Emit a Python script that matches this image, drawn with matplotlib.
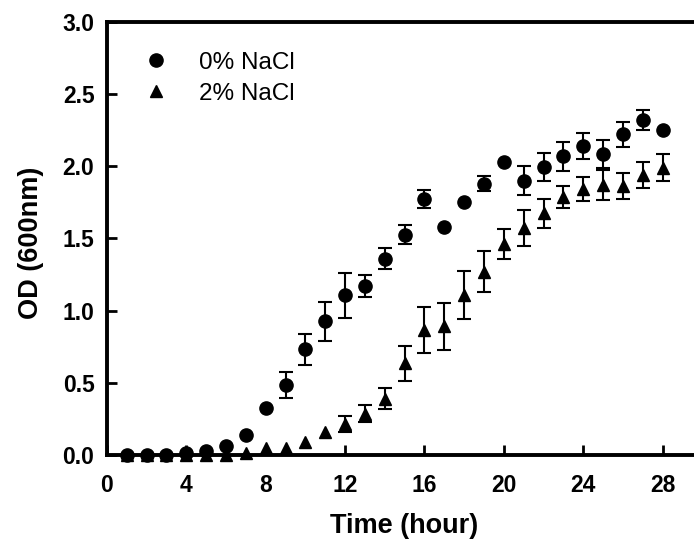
import numpy as np
import matplotlib
matplotlib.use("Agg")
import matplotlib.pyplot as plt
from matplotlib.lines import Line2D

plt.rcParams["font.family"] = ["Liberation Sans", "DejaVu Sans"]

# growth curve readings, OD600 per hour
hours = list(range(1, 29))
od_0 = [0.00, 0.00, 0.00, 0.01, 0.03, 0.06, 0.135, 0.325, 0.485, 0.73,
        0.925, 1.105, 1.17, 1.36, 1.525, 1.77, 1.58, 1.755, 1.88, 2.03,
        1.90, 1.995, 2.07, 2.14, 2.085, 2.22, 2.32, 2.25]
err_0 = [0, 0, 0, 0, 0, 0, 0, 0, 0.092, 0.11,
         0.137, 0.158, 0.078, 0.07, 0.065, 0.062, 0, 0, 0.05, 0,
         0.10, 0.10, 0.10, 0.09, 0.10, 0.087, 0.07, 0]
od_2 = [0.00, 0.00, 0.00, 0.00, 0.00, 0.00, 0.01, 0.05, 0.05, 0.09,
        0.155, 0.215, 0.285, 0.39, 0.635, 0.866, 0.89, 1.11, 1.27, 1.46,
        1.57, 1.675, 1.785, 1.84, 1.87, 1.865, 1.94, 1.99]
err_2 = [0, 0, 0, 0, 0, 0, 0, 0, 0, 0,
         0, 0.055, 0.06, 0.075, 0.12, 0.16, 0.165, 0.167, 0.14, 0.106,
         0.124, 0.10, 0.075, 0.083, 0.107, 0.089, 0.089, 0.095]
labels = ["0% NaCl", "2% NaCl"]

fig = plt.figure(figsize=(6.94, 5.48), dpi=100)
ax = fig.add_axes([0.154, 0.170, 0.858, 0.790])

x = np.array(hours)
for od, err, mk in [(od_0, err_0, "o"), (od_2, err_2, "^")]:
    od = np.array(od)
    err = np.array(err)
    has = err > 0
    ax.errorbar(x[has], od[has], yerr=err[has], fmt="none", ecolor="black",
                elinewidth=1.5, capsize=4.8, capthick=1.5, zorder=2)
    ax.plot(x, od, linestyle="none", marker=mk, color="black",
            markersize=9.5 if mk == "o" else 9, zorder=3, clip_on=False)

ax.set_xlim(0, 30)
ax.set_ylim(0, 3.0)
ax.set_xticks([0, 4, 8, 12, 16, 20, 24, 28])
ax.set_yticks(np.arange(0, 3.01, 0.5))
ax.yaxis.set_major_formatter(matplotlib.ticker.FormatStrFormatter("%.1f"))

for s in ax.spines.values():
    s.set_linewidth(2.8)
ax.spines["right"].set_visible(False)
ax.tick_params(direction="in", length=7, width=2, labelsize=16.5)
ax.tick_params(axis="x", pad=14)
ax.tick_params(axis="y", pad=9)
for lbl in ax.get_xticklabels() + ax.get_yticklabels():
    lbl.set_fontweight("bold")

ax.set_xlabel("Time (hour)", fontsize=19.5, fontweight="bold", labelpad=11)
ax.set_ylabel("OD (600nm)", fontsize=19.5, fontweight="bold")
ax.yaxis.set_label_coords(-0.105, 0.49)

handles = [Line2D([], [], linestyle="none", marker="o", color="black", markersize=9.5),
           Line2D([], [], linestyle="none", marker="^", color="black", markersize=9)]
ax.legend(handles, labels, loc="upper left", frameon=False, fontsize=17.5,
          bbox_to_anchor=(0.025, 0.953), handletextpad=0.77, labelspacing=0.35,
          borderaxespad=0.0)

fig.savefig("out.png", dpi=100)
